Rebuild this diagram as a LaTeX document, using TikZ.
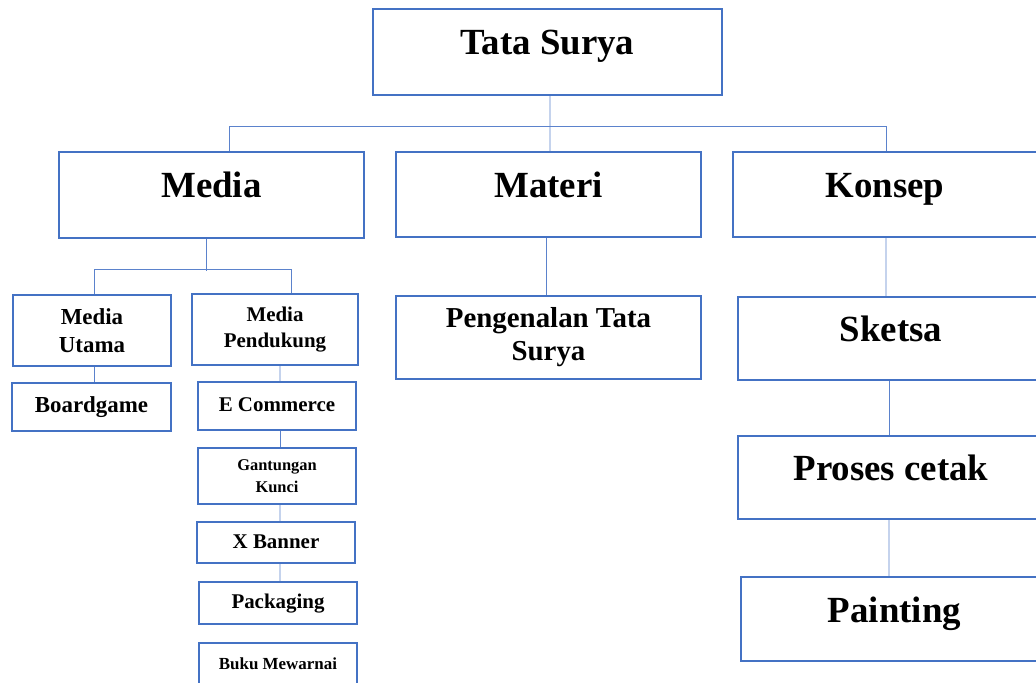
\documentclass[tikz,border=0pt]{standalone}
\usepackage{fontspec}
\setmainfont{Liberation Serif}
\usepackage{tikz}
\definecolor{boxblue}{HTML}{4472C4}
\definecolor{linkblue}{HTML}{5B82CC}

\begin{document}
\begin{tikzpicture}[x=1bp,y=-1bp,
  box/.style={draw=boxblue,line width=2bp,fill=white,align=center,inner sep=0pt},
  big/.style={box,font=\bfseries\fontsize{37}{42}\selectfont,text height=26bp,text depth=20bp},
  small/.style={box,font=\bfseries\fontsize{21}{27}\selectfont,text height=15bp,text depth=4bp},
  link/.style={draw=linkblue,line width=0.9bp}]
\useasboundingbox (0,0) rectangle (1036,683);
\clip (0,0) rectangle (1036,683);

\node[big,minimum width=349bp,minimum height=86bp] (tata) at (547.5,52) {Tata Surya};

\node[big,minimum width=305bp,minimum height=86bp] (media) at (211.5,195) {Media};
\node[big,minimum width=305bp,minimum height=85bp] (materi) at (548.5,194.5) {Materi};
\node[big,minimum width=304bp,minimum height=85bp] (konsep) at (885,194.5) {Konsep};

\node[box,font=\bfseries\fontsize{23}{27.5}\selectfont,minimum width=158bp,minimum height=71bp] (utama) at (92,330.5) {Media\\Utama};
\node[box,font=\bfseries\fontsize{21}{27}\selectfont,minimum width=166bp,minimum height=71bp] (pendukung) at (275,329.5) {Media\\Pendukung};
\node[small,font=\bfseries\fontsize{23}{27}\selectfont,minimum width=159bp,minimum height=48bp] (boardgame) at (91.5,407) {Boardgame};

\node[small,minimum width=158bp,minimum height=48bp] (ecommerce) at (277,406) {E Commerce};
\node[box,font=\bfseries\fontsize{16.5}{22}\selectfont,minimum width=158bp,minimum height=56bp] (gantungan) at (277,476) {Gantungan\\Kunci};
\node[small,minimum width=158bp,minimum height=41bp] (xbanner) at (276,542.5) {X Banner};
\node[small,minimum width=158bp,minimum height=42bp] (packaging) at (278,603) {Packaging};
\node[small,font=\bfseries\fontsize{17}{22}\selectfont,text height=12bp,text depth=6bp,minimum width=158bp,minimum height=47bp] (buku) at (278,666.5) {Buku Mewarnai};

\node[box,font=\bfseries\fontsize{29}{33}\selectfont,minimum width=305bp,minimum height=83bp] (pengenalan) at (548.5,337.5) {Pengenalan Tata\\Surya};

\node[big,minimum width=306bp,minimum height=83bp] (sketsa) at (891,338.5) {Sketsa};
\node[big,minimum width=306bp,minimum height=83bp] (proses) at (891,477.5) {Proses cetak};
\node[big,minimum width=307bp,minimum height=84bp] (painting) at (894.5,619) {Painting};

\draw[link] ([xshift=2.5bp]tata.south) -- ([xshift=1.5bp]materi.north);
\draw[link] ([xshift=17.5bp]media.north) -- ++(0,-25) -| ([xshift=1bp]konsep.north);

\draw[link] ([xshift=-5.5bp]media.south) -- ++(0,32);
\draw[link] ([xshift=2bp]utama.north) -- ++(0,-25) -| ([xshift=16bp]pendukung.north);
\draw[link] ([xshift=2bp]utama.south) -- ([xshift=2.5bp]boardgame.north);

\draw[link] ([xshift=5bp]pendukung.south) -- ([xshift=3bp]ecommerce.north);
\draw[link] ([xshift=3bp]ecommerce.south) -- ([xshift=3bp]gantungan.north);
\draw[link] ([xshift=3bp]gantungan.south) -- ([xshift=4bp]xbanner.north);
\draw[link] ([xshift=4bp]xbanner.south) -- ([xshift=2bp]packaging.north);

\draw[link] ([xshift=-2.5bp]materi.south) -- ([xshift=-2.5bp]pengenalan.north);

\draw[link] ([xshift=1bp]konsep.south) -- ([xshift=-5bp]sketsa.north);
\draw[link] ([xshift=-2bp]sketsa.south) -- ([xshift=-2bp]proses.north);
\draw[link] ([xshift=-2bp]proses.south) -- ([xshift=-5.5bp]painting.north);

\end{tikzpicture}
\end{document}
